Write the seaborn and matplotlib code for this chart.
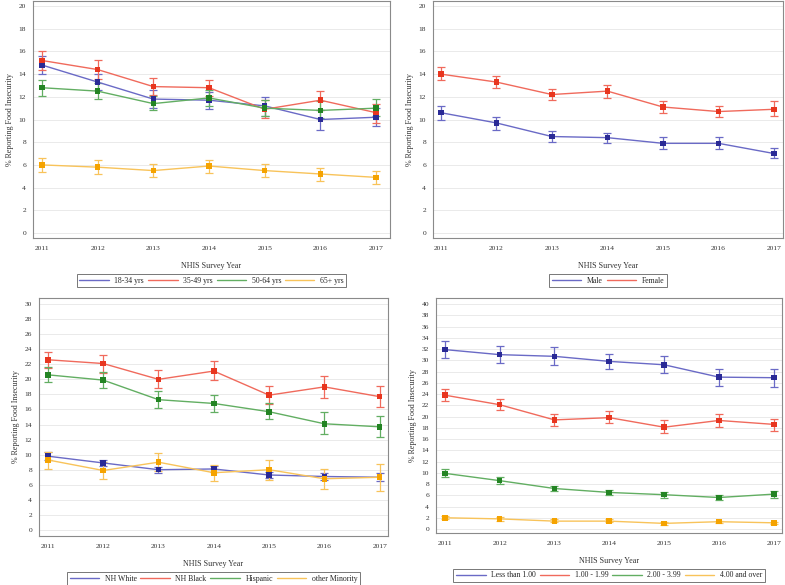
import numpy as np
import pandas as pd
import matplotlib
matplotlib.use("Agg")
import matplotlib.pyplot as plt
from matplotlib.lines import Line2D
import seaborn as sns

# Survey years
years = [2011, 2012, 2013, 2014, 2015, 2016, 2017]

# Panel 1: age groups (estimate, lower CI, upper CI)
age_groups = ["18-34 yrs", "35-49 yrs", "50-64 yrs", "65+ yrs"]
age_est = [[14.8, 13.3, 11.8, 11.7, 11.2, 10.0, 10.2],
           [15.2, 14.4, 12.9, 12.8, 10.9, 11.7, 10.6],
           [12.8, 12.5, 11.4, 11.9, 11.0, 10.8, 11.0],
           [6.0, 5.8, 5.5, 5.9, 5.5, 5.2, 4.9]]
age_lo = [[14.0, 12.6, 11.0, 10.9, 10.3, 9.1, 9.4],
          [14.4, 13.6, 12.2, 12.1, 10.1, 10.8, 9.7],
          [12.1, 11.8, 10.8, 11.2, 10.3, 10.1, 10.3],
          [5.4, 5.2, 4.9, 5.3, 4.9, 4.6, 4.3]]
age_hi = [[15.6, 14.0, 12.6, 12.4, 12.0, 10.8, 11.0],
          [16.0, 15.2, 13.7, 13.5, 11.7, 12.5, 11.4],
          [13.5, 13.2, 12.1, 12.6, 11.7, 11.6, 11.8],
          [6.6, 6.4, 6.1, 6.4, 6.1, 5.7, 5.5]]

# Panel 2: sex
sex_groups = ["Male", "Female"]
sex_est = [[10.6, 9.7, 8.5, 8.4, 7.9, 7.9, 7.0],
           [14.0, 13.3, 12.2, 12.5, 11.1, 10.7, 10.9]]
sex_lo = [[10.0, 9.1, 8.0, 7.9, 7.4, 7.4, 6.6],
          [13.5, 12.8, 11.7, 11.9, 10.6, 10.2, 10.3]]
sex_hi = [[11.2, 10.2, 9.0, 8.8, 8.5, 8.5, 7.5],
          [14.6, 13.8, 12.7, 13.0, 11.6, 11.2, 11.6]]

# Panel 3: race / ethnicity
race_groups = ["NH White", "NH Black", "Hispanic", "other Minority"]
race_est = [[9.8, 8.9, 8.0, 8.1, 7.3, 7.1, 7.0],
            [22.6, 22.1, 20.0, 21.1, 17.9, 19.0, 17.7],
            [20.6, 19.9, 17.3, 16.8, 15.7, 14.1, 13.7],
            [9.3, 7.9, 9.0, 7.6, 8.0, 6.8, 7.0]]
race_lo = [[9.3, 8.5, 7.6, 7.7, 6.9, 6.7, 6.5],
           [21.5, 20.9, 18.8, 19.9, 16.7, 17.5, 16.3],
           [19.6, 18.8, 16.2, 15.6, 14.8, 12.7, 12.3],
           [8.1, 6.8, 7.8, 6.5, 6.7, 5.4, 5.2]]
race_hi = [[10.3, 9.3, 8.4, 8.5, 7.7, 7.6, 7.5],
           [23.6, 23.2, 21.2, 22.4, 19.1, 20.4, 19.1],
           [21.6, 21.0, 18.4, 17.9, 16.8, 15.6, 15.1],
           [10.4, 9.0, 10.2, 8.6, 9.3, 8.1, 8.8]]

# Panel 4: income to poverty ratio
inc_groups = ["Less than 1.00", "1.00 - 1.99", "2.00 - 3.99", "4.00 and over"]
inc_est = [[31.9, 31.0, 30.7, 29.8, 29.2, 27.0, 26.9],
           [23.8, 22.1, 19.4, 19.8, 18.1, 19.3, 18.6],
           [9.9, 8.6, 7.2, 6.5, 6.1, 5.6, 6.2],
           [2.0, 1.8, 1.4, 1.4, 1.0, 1.3, 1.1]]
inc_lo = [[30.4, 29.6, 29.1, 28.4, 27.7, 25.5, 25.2],
          [22.7, 21.1, 18.4, 18.8, 17.1, 18.2, 17.5],
          [9.3, 8.0, 6.7, 6.0, 5.6, 5.1, 5.6],
          [1.8, 1.5, 1.2, 1.2, 0.8, 1.1, 0.9]]
inc_hi = [[33.5, 32.5, 32.4, 31.2, 30.7, 28.5, 28.5],
          [24.9, 23.2, 20.5, 20.9, 19.3, 20.5, 19.6],
          [10.6, 9.2, 7.7, 7.0, 6.6, 6.1, 6.8],
          [2.3, 2.1, 1.7, 1.7, 1.2, 1.5, 1.3]]

line_cols = ["#6A6AC6", "#F06A5C", "#62AE62", "#F8C35A"]
mark_cols = ["#2A2A96", "#E8361F", "#238423", "#F5A300"]

sns.set_theme(style="white")
plt.rcParams["font.family"] = ["Liberation Serif", "DejaVu Serif"]

W, H = 785, 585
fig = plt.figure(figsize=(W / 100, H / 100), dpi=100)


def place(l, t, r, b):
    return fig.add_axes([l / W, 1 - b / H, (r - l) / W, (b - t) / H])


def panel(ax, groups, est, lo, hi, ymax, xlim, ylim):
    rows = []
    for g, e, a, b in zip(groups, est, lo, hi):
        for yr, v, lv, hv in zip(years, e, a, b):
            rows.append({"year": yr, "group": g, "pct": v, "lo": lv, "hi": hv})
    df = pd.DataFrame(rows)
    pal = dict(zip(groups, line_cols))
    mpal = dict(zip(groups, mark_cols))
    ax.yaxis.grid(True, color="#EAEAEA", lw=0.7)
    ax.set_axisbelow(True)
    for g in groups:
        d = df[df.group == g]
        ax.errorbar(d.year, d.pct, yerr=[d.pct - d.lo, d.hi - d.pct], fmt="none",
                    ecolor=pal[g], elinewidth=0.9, capsize=2.6, capthick=0.9, zorder=2)
    sns.lineplot(data=df, x="year", y="pct", hue="group", hue_order=groups,
                 palette=pal, lw=1.0, legend=False, ax=ax, zorder=3)
    sns.scatterplot(data=df, x="year", y="pct", hue="group", hue_order=groups,
                    palette=mpal, marker="s", s=16, linewidth=0, legend=False,
                    ax=ax, zorder=4)
    ax.set_xlim(*xlim)
    ax.set_ylim(*ylim)
    ax.set_xticks(years)
    ax.set_yticks(np.arange(0, ymax + 1, 2))
    ax.tick_params(axis="both", length=3, width=0.7, color="#555555",
                   labelsize=5.4, labelcolor="#333333", pad=2, direction="out")
    ax.tick_params(axis="x", pad=3)
    for s in ax.spines.values():
        s.set_color("#8A8A8A")
        s.set_linewidth(0.8)
    ax.set_xlabel("NHIS Survey Year", fontsize=5.8, color="#333333", labelpad=8)
    ax.set_ylabel("% Reporting Food Insecurity", fontsize=5.8, color="#333333", labelpad=3)
    handles = [Line2D([0], [0], color=pal[g], lw=1.0) for g in groups]
    leg = ax.legend(handles, groups, loc="center", bbox_to_anchor=(0.5, -0.18),
                    ncol=len(groups), fontsize=5.6, handlelength=3.8,
                    columnspacing=0.5, handletextpad=0.7, frameon=True,
                    fancybox=False, borderpad=0.35, borderaxespad=0,
                    edgecolor="#555555")
    leg.get_frame().set_linewidth(0.7)


ax1 = place(33, 1, 390, 238)
panel(ax1, age_groups, age_est, age_lo, age_hi, 20, (2010.84, 2017.25), (-0.44, 20.44))
ax2 = place(433, 1, 783, 238)
panel(ax2, sex_groups, sex_est, sex_lo, sex_hi, 20, (2010.86, 2017.16), (-0.44, 20.44))
ax3 = place(39, 298, 388, 536)
panel(ax3, race_groups, race_est, race_lo, race_hi, 30, (2010.84, 2017.15), (-0.8, 30.8))
ax4 = place(436, 298, 782, 533)
panel(ax4, inc_groups, inc_est, inc_lo, inc_hi, 40, (2010.84, 2017.15), (-0.71, 41.07))

fig.savefig("out.png", dpi=100)
